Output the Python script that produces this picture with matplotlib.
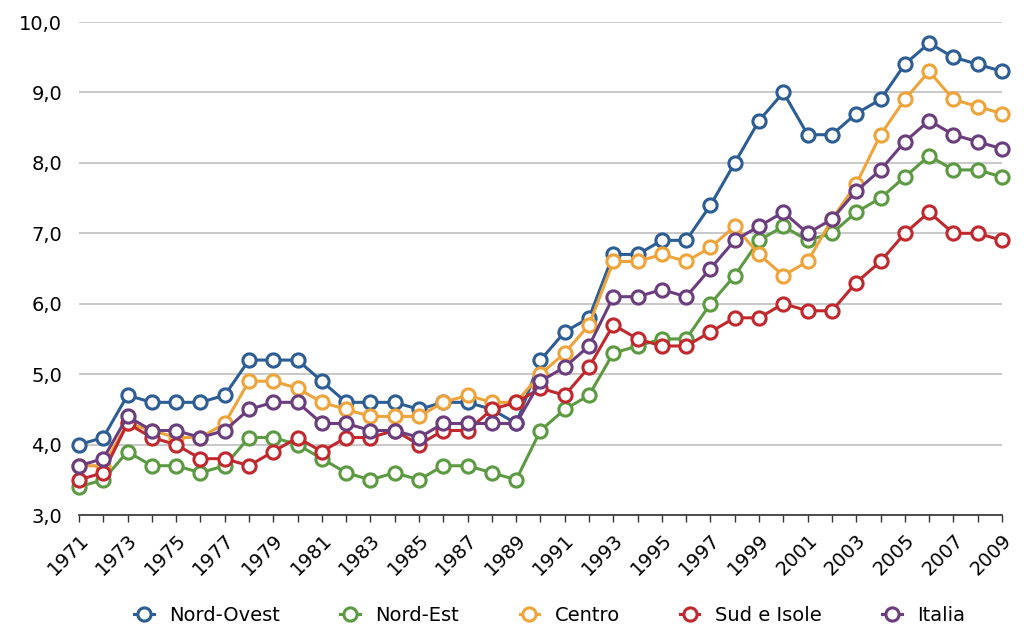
import matplotlib
matplotlib.use("Agg")
import matplotlib.pyplot as plt
from matplotlib.ticker import FuncFormatter

years = list(range(1971, 2010))

nord_ovest = [4.0, 4.1, 4.7, 4.6, 4.6, 4.6, 4.7, 5.2, 5.2, 5.2,
              4.9, 4.6, 4.6, 4.6, 4.5, 4.6, 4.6, 4.5, 4.3, 5.2,
              5.6, 5.8, 6.7, 6.7, 6.9, 6.9, 7.4, 8.0, 8.6, 9.0,
              8.4, 8.4, 8.7, 8.9, 9.4, 9.7, 9.5, 9.4, 9.3]
nord_est = [3.4, 3.5, 3.9, 3.7, 3.7, 3.6, 3.7, 4.1, 4.1, 4.0,
            3.8, 3.6, 3.5, 3.6, 3.5, 3.7, 3.7, 3.6, 3.5, 4.2,
            4.5, 4.7, 5.3, 5.4, 5.5, 5.5, 6.0, 6.4, 6.9, 7.1,
            6.9, 7.0, 7.3, 7.5, 7.8, 8.1, 7.9, 7.9, 7.8]
centro = [3.7, 3.7, 4.3, 4.2, 4.1, 4.1, 4.3, 4.9, 4.9, 4.8,
          4.6, 4.5, 4.4, 4.4, 4.4, 4.6, 4.7, 4.6, 4.6, 5.0,
          5.3, 5.7, 6.6, 6.6, 6.7, 6.6, 6.8, 7.1, 6.7, 6.4,
          6.6, 7.2, 7.7, 8.4, 8.9, 9.3, 8.9, 8.8, 8.7]
sud_isole = [3.5, 3.6, 4.3, 4.1, 4.0, 3.8, 3.8, 3.7, 3.9, 4.1,
             3.9, 4.1, 4.1, 4.2, 4.0, 4.2, 4.2, 4.5, 4.6, 4.8,
             4.7, 5.1, 5.7, 5.5, 5.4, 5.4, 5.6, 5.8, 5.8, 6.0,
             5.9, 5.9, 6.3, 6.6, 7.0, 7.3, 7.0, 7.0, 6.9]
italia = [3.7, 3.8, 4.4, 4.2, 4.2, 4.1, 4.2, 4.5, 4.6, 4.6,
          4.3, 4.3, 4.2, 4.2, 4.1, 4.3, 4.3, 4.3, 4.3, 4.9,
          5.1, 5.4, 6.1, 6.1, 6.2, 6.1, 6.5, 6.9, 7.1, 7.3,
          7.0, 7.2, 7.6, 7.9, 8.3, 8.6, 8.4, 8.3, 8.2]

series = [
    ("Nord-Ovest", nord_ovest, "#2c5d94"),
    ("Nord-Est", nord_est, "#5c9a42"),
    ("Centro", centro, "#eea43a"),
    ("Sud e Isole", sud_isole, "#c0282e"),
    ("Italia", italia, "#6c3d7e"),
]

plt.rcParams['font.family'] = ['DejaVu Sans']

fig = plt.figure(figsize=(10.24, 6.29), dpi=100)
ax = fig.add_axes([0.0771, 0.1812, 0.9014, 0.7838])

for name, vals, col in series:
    ax.plot(years, vals, color=col, lw=2.2, marker='o', ms=9.5,
            mfc='white', mec=col, mew=2.2, label=name, clip_on=False, zorder=3)

ax.set_xlim(1971, 2009)
ax.set_ylim(3, 10)
ax.set_yticks([3, 4, 5, 6, 7, 8, 9, 10])
ax.yaxis.set_major_formatter(FuncFormatter(lambda v, p: ("%.1f" % v).replace('.', ',')))
ax.grid(axis='y', color='#c4c4c4', lw=1.3)
ax.set_axisbelow(True)

ax.set_xticks(years[::2])
ax.set_xticks(years, minor=True)
ax.set_xticklabels([str(y) for y in years[::2]], rotation=45, ha='right',
                   rotation_mode='anchor', fontsize=14)
ax.tick_params(axis='x', which='both', direction='out', length=5, width=1,
               color='#333333', pad=6)
ax.tick_params(axis='y', length=0, labelsize=14, pad=12)

for s in ['top', 'right', 'left']:
    ax.spines[s].set_visible(False)
ax.spines['bottom'].set_color('#333333')
ax.spines['bottom'].set_linewidth(1.2)

ax.legend(loc='center', bbox_to_anchor=(0.51, -0.203), ncol=5, frameon=False,
          fontsize=14, handlelength=1.0, columnspacing=3.1, handletextpad=0.8)

fig.savefig("out.png", dpi=100)
